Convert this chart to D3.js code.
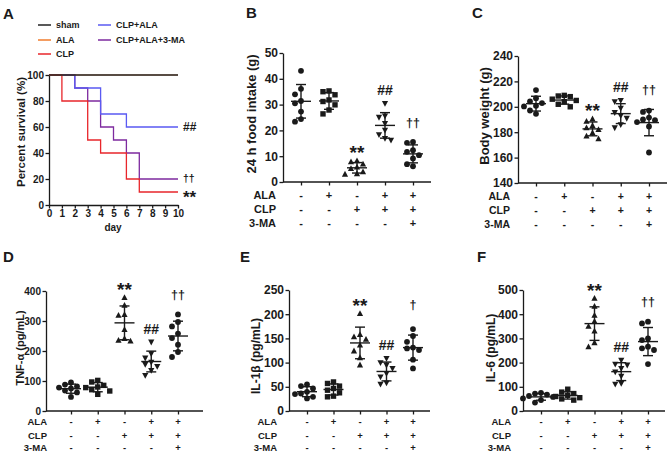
<!DOCTYPE html>
<html><head><meta charset="utf-8">
<script src="https://cdn.jsdelivr.net/npm/d3@7"></script>
<style>
body{margin:0;background:#fff}
svg{display:block}
text{font-family:"Liberation Sans",Arial,Helvetica,sans-serif;fill:#1a1a1a}
</style>
</head><body>
<svg id="c" width="669" height="454"></svg>
<script>
// ---------------- DATA ----------------
const survivalNames = ["sham", "ALA", "CLP", "CLP+ALA", "CLP+ALA+3-MA"];
const survivalDayTicks = [0,1,2,3,4,5,6,7,8,9,10];
const survivalPctTicks = [0,20,40,60,80,100];
// step points [day, percent]
const survSham = [[0,100],[10,100]];
const survALA = [[0,100],[10,100]];
const survCLP = [[0,100],[1,80],[3,50],[4,40],[6,20],[7,10],[10,10]];
const survCLPALA = [[0,100],[2,90],[4,70],[6,60],[10,60]];
const survCLPALA3MA = [[0,100],[2,90],[3,80],[4,60],[5,50],[6,40],[7,20],[10,20]];
const survivalMarks = [{series:"CLP+ALA", text:"##"}, {series:"CLP+ALA+3-MA", text:"††"}, {series:"CLP", text:"**"}];

const rowALA = ["-","+","-","+","+"];
const rowCLP = ["-","-","+","+","+"];
const row3MA = ["-","-","-","-","+"];

const foodIntake = [
  [43.1, 36.1, 34.0, 31.4, 30.5, 27.3, 24.4, 23.4],
  [35.3, 35.0, 33.8, 31.8, 31.2, 29.9, 27.9, 26.4],
  [8.2, 7.8, 6.9, 5.8, 5.2, 3.9, 3.2, 3.0],
  [30.5, 25.6, 25.1, 22.7, 20.1, 18.4, 16.9, 16.2],
  [15.5, 15.2, 12.3, 11.7, 10.4, 9.1, 6.9, 6.1]
];
const foodTicks = [0,10,20,30,40,50];

const bodyWeight = [
  [213.2, 206.8, 204.2, 202.9, 200.8, 200.3, 197.1, 194.5],
  [209, 208.5, 208, 206, 205, 204, 202, 200],
  [190.4, 188.6, 185.2, 183.4, 182.1, 179.5, 176.9, 174.8],
  [205, 204, 199, 195.5, 193, 191, 186, 183.5],
  [197, 196, 191.5, 190, 189.5, 188, 184.5, 164]
];
const weightTicks = [140,160,180,200,220,240];

const tnfAlpha = [
  [95, 88, 82, 78, 75, 68, 62, 47],
  [102, 96.7, 85.5, 80, 78, 71, 66.7, 55.6],
  [377.8, 352, 321, 319, 271, 241, 235.6, 233],
  [230, 191, 176.7, 163, 155.6, 149, 135.6, 118.9],
  [322, 296.7, 282, 258, 243, 221, 196.7, 180]
];
const tnfTicks = [0,100,200,300,400];

const il1b = [
  [54.8, 51.4, 46.6, 39.7, 36.2, 35, 29.3, 26],
  [60, 56.9, 51.4, 46.6, 43, 37.6, 30.7, 29.3],
  [201, 158, 153, 148, 136, 124, 110, 95],
  [108.6, 100, 95, 88, 77.6, 70.7, 58, 55.5],
  [169.3, 155, 143, 131, 129.3, 126, 106, 88]
];
const il1bTicks = [0,50,100,150,200,250];

const il6 = [
  [75, 72, 68, 62, 58, 52, 45, 35],
  [90, 78, 72, 65, 60, 55, 50, 45],
  [465, 432, 395, 370, 350, 330, 282, 265],
  [210, 194, 190, 176, 162, 144, 114, 111],
  [369, 362, 300, 293, 266, 259, 252, 194]
];
const il6Ticks = [0,100,200,300,400,500];

const groupShapes = ["circle","square","triangle","triangleDown","circle"];
const scatterMarks = [{group:2, text:"**"}, {group:3, text:"##"}, {group:4, text:"††"}];
const scatterMarksE = [{group:2, text:"**"}, {group:3, text:"##"}, {group:4, text:"†"}];

// ---------------- DRAW ----------------
const svg = d3.select("#c");
const FONT = '"Liberation Sans",Arial,Helvetica,sans-serif';
const INK = "#1a1a1a";

function letter(t, x, y) {
  svg.append("text").attr("x", x).attr("y", y).attr("font-size", 15).attr("font-weight", "bold").text(t);
}

function styleAxis(g, fs) {
  g.selectAll("path.domain").attr("stroke", INK).attr("stroke-width", 1.3);
  g.selectAll(".tick line").attr("stroke", INK).attr("stroke-width", 1.3);
  g.selectAll(".tick text").attr("font-size", fs).attr("font-weight", "bold")
    .attr("font-family", FONT).attr("fill", INK);
}

function markBaseline(text, fs) {
  if (text.startsWith("*")) return fs * 0.6;
  if (text.startsWith("#")) return fs * 0.36;
  return fs * 0.3;
}
function markSize(text) {
  if (text.startsWith("*")) return 19;
  if (text.startsWith("#")) return 14;
  return 12.5;
}
function markWeight(text) { return "bold"; }

// ---------- Panel A ----------
(function () {
  letter("A", 3, 19);
  const x = d3.scaleLinear().domain([0, 10]).range([49, 178]);
  const y = d3.scaleLinear().domain([0, 100]).range([205, 75]);
  const gx = svg.append("g").attr("transform", "translate(0,205)")
    .call(d3.axisBottom(x).tickValues(survivalDayTicks).tickSize(3.5).tickSizeOuter(0).tickPadding(1));
  styleAxis(gx, 10);
  const gy = svg.append("g").attr("transform", "translate(49,0)")
    .call(d3.axisLeft(y).tickValues(survivalPctTicks).tickSize(3.5).tickSizeOuter(0).tickPadding(1.5));
  styleAxis(gy, 10);
  svg.append("text").attr("x", 113).attr("y", 231).attr("text-anchor", "middle")
    .attr("font-size", 10).attr("font-weight", "bold").text("day");
  svg.append("text").attr("transform", "translate(25,132) rotate(-90)").attr("text-anchor", "middle")
    .attr("font-size", 11.5).attr("font-weight", "bold").text("Percent survival (%)");

  const series = {
    "sham": survSham, "ALA": survALA, "CLP": survCLP, "CLP+ALA": survCLPALA, "CLP+ALA+3-MA": survCLPALA3MA
  };
  const colors = {"sham": "#222222", "ALA": "#f07d2e", "CLP": "#e8262b", "CLP+ALA": "#5a5af2", "CLP+ALA+3-MA": "#7d2a9f"};
  const drawOrder = ["CLP+ALA+3-MA", "CLP+ALA", "CLP", "ALA", "sham"];
  const line = d3.line().x(d => x(d[0])).y(d => y(d[1])).curve(d3.curveStepAfter);
  drawOrder.forEach(n => {
    svg.append("path").attr("d", line(series[n])).attr("fill", "none")
      .attr("stroke", colors[n]).attr("stroke-width", n === "ALA" ? 0.8 : 1.3);
  });
  survivalMarks.forEach(m => {
    const s = series[m.series];
    const last = s[s.length - 1];
    const fs = markSize(m.text) - 2;
    svg.append("text").attr("x", x(10) + 5).attr("y", y(last[1]) + markBaseline(m.text, fs) + (m.text === "**" ? 1 : 0))
      .attr("font-size", fs).attr("font-weight", markWeight(m.text)).attr("fill", INK).text(m.text);
  });
  // legend
  const legPos = [[38, 25], [38, 40], [38, 54], [98, 25], [98, 40]];
  survivalNames.forEach((n, i) => {
    const [lx, ly] = legPos[i];
    svg.append("line").attr("x1", lx).attr("x2", lx + 13).attr("y1", ly).attr("y2", ly)
      .attr("stroke", colors[n]).attr("stroke-width", 1.5);
    svg.append("text").attr("x", lx + 18).attr("y", ly + 3.3).attr("font-size", 9)
      .attr("font-weight", "bold").text(n);
  });
})();

// ---------- Scatter panels ----------
function marker(g, shape, cx, cy) {
  if (shape === "circle") {
    g.append("circle").attr("cx", cx).attr("cy", cy).attr("r", 2.9).attr("fill", INK);
  } else if (shape === "square") {
    g.append("rect").attr("x", cx - 2.7).attr("y", cy - 2.7).attr("width", 5.4).attr("height", 5.4).attr("fill", INK);
  } else if (shape === "triangle") {
    g.append("path").attr("d", `M${cx},${cy - 3.4}L${cx + 3.1},${cy + 2.4}L${cx - 3.1},${cy + 2.4}Z`).attr("fill", INK);
  } else {
    g.append("path").attr("d", `M${cx},${cy + 3.4}L${cx + 3.1},${cy - 2.4}L${cx - 3.1},${cy - 2.4}Z`).attr("fill", INK);
  }
}

function swarm(vals, y, d) {
  const idx = vals.map((v, i) => i).sort((a, b) => vals[b] - vals[a]);
  const placed = [];
  const off = new Array(vals.length).fill(0);
  const tries = [0, -1, 1, -2, 2, -3, 3];
  idx.forEach(i => {
    const py = y(vals[i]);
    for (const k of tries) {
      const px = k * d;
      if (placed.every(p => Math.hypot(p[0] - px, p[1] - py) >= d)) {
        off[i] = px; placed.push([px, py]); break;
      }
    }
  });
  return off;
}

function scatterPanel(cfg, groups, ticks, marks) {
  letter(cfg.letter, cfg.lx, cfg.ly);
  const y = d3.scaleLinear().domain([ticks[0], ticks[ticks.length - 1]]).range([cfg.y0, cfg.yTop]);
  const x = d3.scalePoint().domain(d3.range(groups.length)).range([cfg.xFirst, cfg.xLast]);
  const gy = svg.append("g").attr("transform", `translate(${cfg.axisX},0)`)
    .call(d3.axisLeft(y).tickValues(ticks).tickSize(3.5).tickSizeOuter(0).tickPadding(1.5));
  styleAxis(gy, cfg.tickFont);
  const gx = svg.append("g").attr("transform", `translate(0,${cfg.y0})`)
    .call(d3.axisBottom(x).tickSize(3.5).tickSizeOuter(0).tickFormat(""));
  gx.select("path.domain").remove();
  styleAxis(gx, cfg.tickFont);
  svg.append("line").attr("x1", cfg.axisX).attr("x2", cfg.xEnd).attr("y1", cfg.y0).attr("y2", cfg.y0)
    .attr("stroke", INK).attr("stroke-width", 1.3);
  svg.append("text").attr("transform", `translate(${cfg.titleX},${cfg.titleY}) rotate(-90)`)
    .attr("text-anchor", "middle").attr("font-size", cfg.titleFont).attr("font-weight", "bold").text(cfg.title);

  const tops = [];
  groups.forEach((vals, gi) => {
    const g = svg.append("g");
    const cx = x(gi);
    const off = swarm(vals, y, 6);
    vals.forEach((v, i) => marker(g, groupShapes[gi], cx + off[i], y(v)));
    const m = d3.mean(vals), sd = d3.deviation(vals);
    g.append("line").attr("x1", cx - 10).attr("x2", cx + 10).attr("y1", y(m)).attr("y2", y(m))
      .attr("stroke", INK).attr("stroke-width", 1.4);
    g.append("line").attr("x1", cx).attr("x2", cx).attr("y1", y(m - sd)).attr("y2", y(m + sd))
      .attr("stroke", INK).attr("stroke-width", 1.4);
    [m - sd, m + sd].forEach(v => g.append("line").attr("x1", cx - 5).attr("x2", cx + 5)
      .attr("y1", y(v)).attr("y2", y(v)).attr("stroke", INK).attr("stroke-width", 1.4));
    tops.push(Math.min(y(d3.max(vals)), y(m + sd)));
  });
  marks.forEach(mk => {
    const fs = markSize(mk.text);
    const gap = mk.text.startsWith("†") ? 19 : 13;
    const cy = tops[mk.group] - gap - (cfg.extraGap && cfg.extraGap[mk.group] || 0);
    svg.append("text").attr("x", x(mk.group)).attr("y", cy + markBaseline(mk.text, fs))
      .attr("text-anchor", "middle").attr("font-size", fs)
      .attr("font-weight", markWeight(mk.text)).attr("fill", INK).text(mk.text);
  });
  const rows = [["ALA", rowALA], ["CLP", rowCLP], ["3-MA", row3MA]];
  rows.forEach(([lab, signs], ri) => {
    const ry = cfg.rowYs[ri] + cfg.rowFont * 0.36;
    svg.append("text").attr("x", cfg.rowLabelX).attr("y", ry).attr("text-anchor", "end")
      .attr("font-size", cfg.rowFont).attr("font-weight", "bold").text(lab);
    signs.forEach((s, i) => svg.append("text").attr("x", x(i)).attr("y", ry).attr("text-anchor", "middle")
      .attr("font-size", cfg.rowFont).attr("font-weight", "bold").text(s));
  });
}

scatterPanel({letter: "B", lx: 246, ly: 18, axisX: 283, xFirst: 301, xLast: 413, xEnd: 431,
  y0: 182, yTop: 53, title: "24 h food intake (g)", titleX: 256, titleY: 114,
  tickFont: 12, titleFont: 13, rowFont: 11, rowYs: [195, 209, 223], rowLabelX: 276}, foodIntake, foodTicks, scatterMarks);

scatterPanel({letter: "C", lx: 472, ly: 18, axisX: 518, xFirst: 536, xLast: 649, xEnd: 667,
  y0: 183, yTop: 56, title: "Body weight (g)", titleX: 489, titleY: 116,
  tickFont: 12, titleFont: 13, rowFont: 10.5, rowYs: [196, 210, 224], rowLabelX: 510}, bodyWeight, weightTicks, scatterMarks);

scatterPanel({letter: "D", lx: 3, ly: 262, axisX: 46, xFirst: 71, xLast: 178, xEnd: 203,
  y0: 411, yTop: 291, title: "TNF-α (pg/mL)", titleX: 24, titleY: 348,
  tickFont: 10, titleFont: 11, rowFont: 9.5, rowYs: [422, 435.5, 448], rowLabelX: 47}, tnfAlpha, tnfTicks, scatterMarks);

scatterPanel({letter: "E", lx: 240, ly: 262, axisX: 289, xFirst: 307, xLast: 413, xEnd: 430,
  y0: 411, yTop: 290, title: "IL-1β (pg/mL)", titleX: 260, titleY: 356,
  tickFont: 12, titleFont: 12, rowFont: 9.5, rowYs: [422, 435.5, 448], rowLabelX: 277, extraGap: {4: 5}}, il1b, il1bTicks, scatterMarksE);

scatterPanel({letter: "F", lx: 477, ly: 262, axisX: 523, xFirst: 541, xLast: 648, xEnd: 665,
  y0: 411, yTop: 290, title: "IL-6 (pg/mL)", titleX: 495, titleY: 348,
  tickFont: 12, titleFont: 12, rowFont: 9.5, rowYs: [422, 435.5, 448], rowLabelX: 511}, il6, il6Ticks, scatterMarks);
</script>
</body></html>
